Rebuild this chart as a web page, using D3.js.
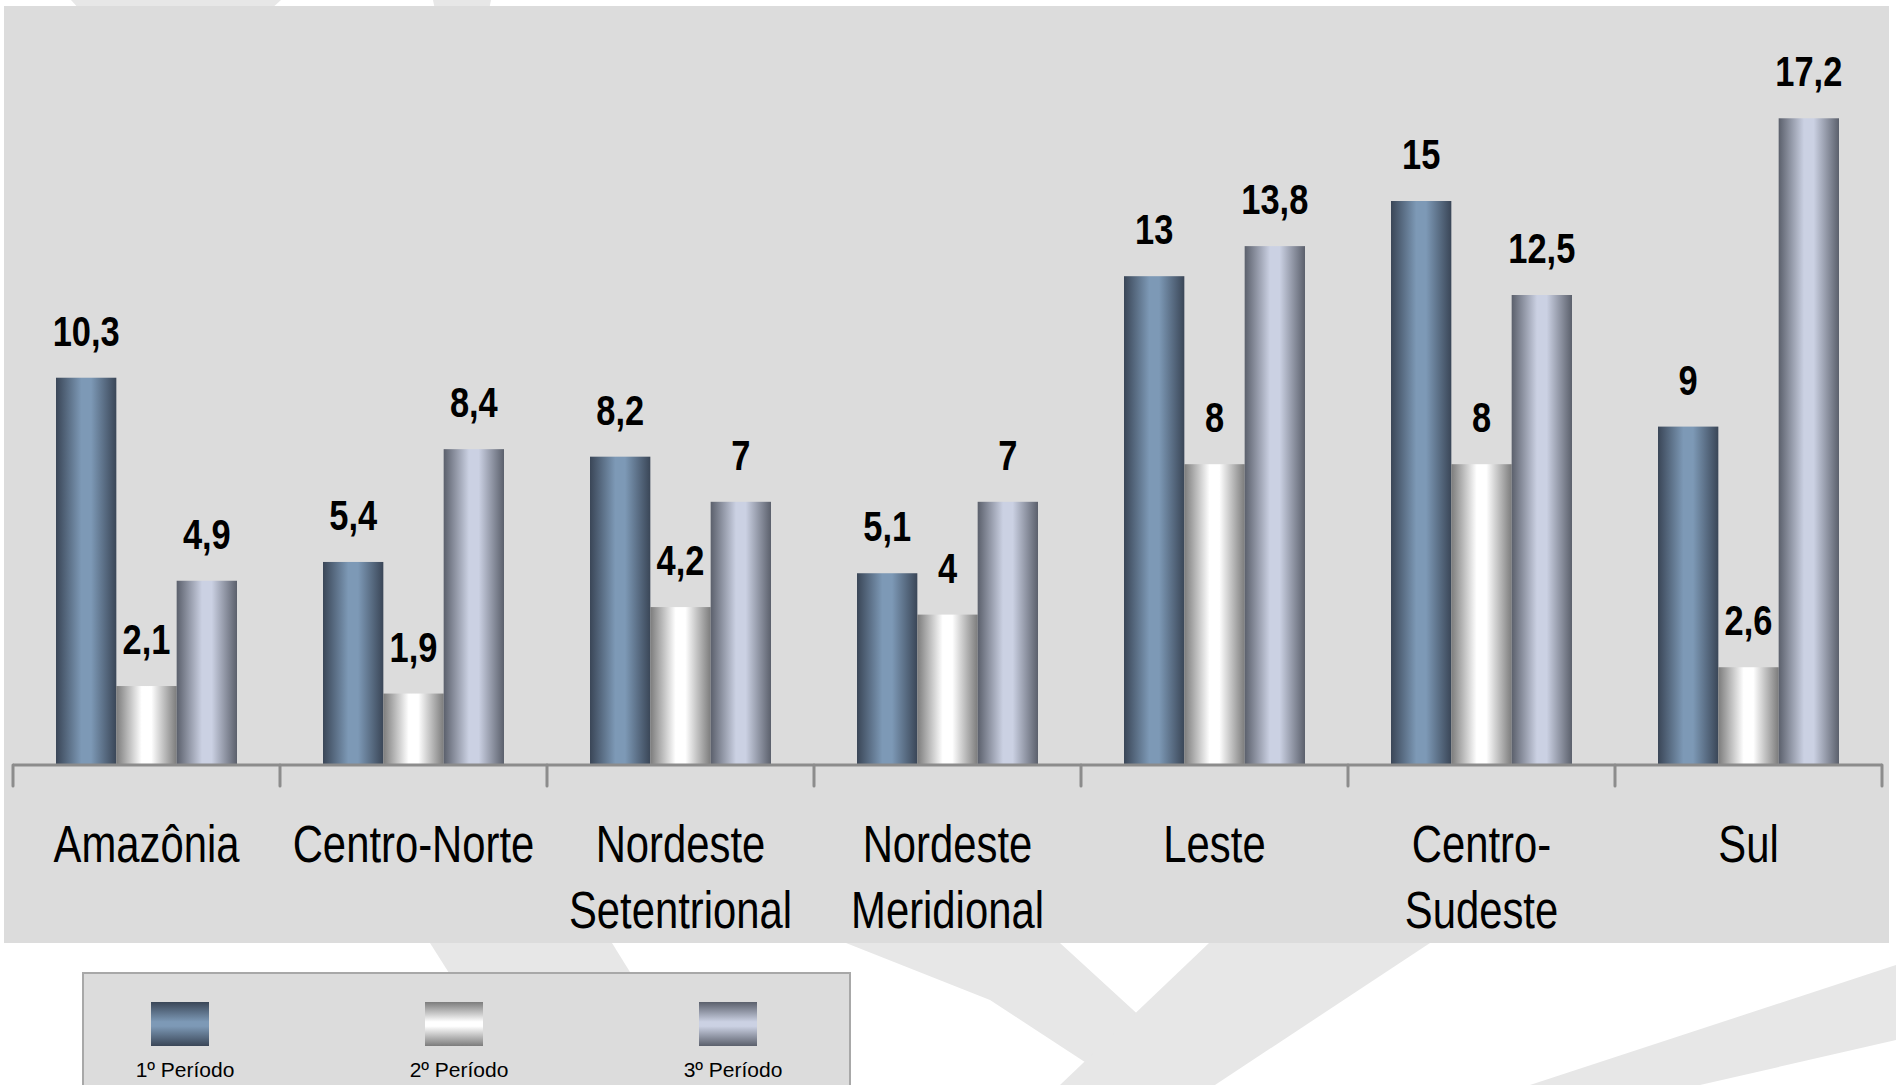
<!DOCTYPE html>
<html>
<head>
<meta charset="utf-8">
<script src="https://cdn.jsdelivr.net/npm/d3@7"></script>
<style>
  html, body { margin: 0; padding: 0; background: #ffffff; }
  svg { display: block; }
  text { font-family: "Liberation Sans", Arial, sans-serif; }
</style>
</head>
<body>
<svg id="chart"></svg>
<script>
const categories = ['Amazônia', 'Centro-Norte', 'Nordeste Setentrional', 'Nordeste Meridional', 'Leste', 'Centro-Sudeste', 'Sul'];
const categoryLines = [['Amazônia'], ['Centro-Norte'], ['Nordeste', 'Setentrional'], ['Nordeste', 'Meridional'], ['Leste'], ['Centro-', 'Sudeste'], ['Sul']];
const seriesNames = ['1º Período', '2º Período', '3º Período'];
const periodo1 = [10.3, 5.4, 8.2, 5.1, 13, 15, 9];
const periodo2 = [2.1, 1.9, 4.2, 4, 8, 8, 2.6];
const periodo3 = [4.9, 8.4, 7, 7, 13.8, 12.5, 17.2];

const config = {
    width: 1896,
    height: 1085,
    baseY: 765,
    axisLeft: 13,
    axisRight: 1882
};

// gradient colours per series: [edge, centre]
const shades = [
    ['#3a4657', '#7d99b6'],
    ['#7c7c7c', '#ffffff'],
    ['#5b606c', '#cbd1e3']
];

const values = [periodo1, periodo2, periodo3];
const rows = categories.map((c, i) => ({
    cat: c,
    vals: seriesNames.map((s, j) => ({ key: s, idx: j, v: values[j][i] }))
}));

let svg = d3.select('#chart')
    .attr('width', config.width)
    .attr('height', config.height);

// gradients
let defs = svg.append('defs');
shades.forEach((s, i) => {
    let gh = defs.append('linearGradient')
        .attr('id', 'gh' + i)
        .attr('x1', '0%').attr('x2', '100%').attr('y1', '0%').attr('y2', '0%');
    gh.append('stop').attr('offset', '0%').attr('stop-color', s[0]);
    gh.append('stop').attr('offset', '42%').attr('stop-color', s[1]);
    gh.append('stop').attr('offset', '58%').attr('stop-color', s[1]);
    gh.append('stop').attr('offset', '100%').attr('stop-color', s[0]);
    let gv = defs.append('linearGradient')
        .attr('id', 'gv' + i)
        .attr('x1', '0%').attr('x2', '0%').attr('y1', '0%').attr('y2', '100%');
    gv.append('stop').attr('offset', '0%').attr('stop-color', s[0]);
    gv.append('stop').attr('offset', '45%').attr('stop-color', s[1]);
    gv.append('stop').attr('offset', '55%').attr('stop-color', s[1]);
    gv.append('stop').attr('offset', '100%').attr('stop-color', s[0]);
});

// faint watermark behind everything
const wm = '#e7e7e7';
const watermark = [
    [[71, 0], [281, 0], [270, 10], [80, 10]],
    [[433, 0], [491, 0], [489, 10], [435, 10]],
    [[430, 943], [612, 943], [700, 1085], [520, 1085]],
    [[846, 943], [1060, 943], [1215, 1085], [1120, 1085], [990, 1000]],
    [[1209, 943], [1430, 943], [1215, 1085], [1060, 1085]],
    [[1896, 965], [1896, 1040], [1700, 1085], [1530, 1085]]
];
svg.append('g')
    .selectAll('path')
    .data(watermark)
    .enter()
    .append('path')
    .attr('d', d => d3.line()(d) + 'Z')
    .style('fill', wm);

// panel
svg.append('rect')
    .attr('x', 4).attr('y', 6)
    .attr('width', 1885).attr('height', 937)
    .style('fill', '#dcdcdc');

// scales
let xScale = d3.scaleBand()
    .domain(categories)
    .range([config.axisLeft, config.axisRight]);

let xSub = d3.scaleBand()
    .domain(seriesNames)
    .range([43, 224]);

let yScale = d3.scaleLinear()
    .domain([0, 20])
    .range([config.baseY, config.baseY - 20 * 37.6]);

// bars
let groups = svg.append('g')
    .selectAll('g')
    .data(rows)
    .enter()
    .append('g')
    .attr('transform', d => `translate(${xScale(d.cat)},0)`);

groups.selectAll('rect')
    .data(d => d.vals)
    .enter()
    .append('rect')
    .attr('x', d => xSub(d.key))
    .attr('width', xSub.bandwidth())
    .attr('y', d => yScale(d.v))
    .attr('height', d => yScale(0) - yScale(d.v))
    .style('fill', d => `url(#gh${d.idx})`);

// value labels
groups.selectAll('text')
    .data(d => d.vals)
    .enter()
    .append('text')
    .attr('transform', d => `translate(${xSub(d.key) + xSub.bandwidth() / 2},${yScale(d.v) - 32}) scale(0.82,1)`)
    .attr('text-anchor', 'middle')
    .style('font-size', '42px')
    .style('font-weight', 'bold')
    .style('fill', '#000')
    .text(d => String(d.v).replace('.', ','));

// axis
let xAxis = d3.axisBottom(xScale)
    .tickSize(0)
    .tickFormat('');
let axisG = svg.append('g')
    .attr('transform', `translate(0,${config.baseY})`)
    .call(xAxis);
axisG.select('.domain')
    .attr('d', `M${config.axisLeft},0H${config.axisRight}`)
    .style('stroke', '#8c8c8c')
    .style('stroke-width', 3);

let tickX = categories.map(c => xScale(c)).concat([config.axisRight]);
axisG.selectAll('line.sep')
    .data(tickX)
    .enter()
    .append('line')
    .attr('class', 'sep')
    .attr('x1', d => d).attr('x2', d => d)
    .attr('y1', 0).attr('y2', 21)
    .style('stroke', '#8c8c8c')
    .style('stroke-width', 3)
    .style('stroke-linecap', 'round');

// category labels
let catG = svg.append('g')
    .selectAll('g')
    .data(categories)
    .enter()
    .append('g')
    .attr('transform', d => `translate(${xScale(d) + xScale.bandwidth() / 2},0)`);

catG.selectAll('text')
    .data((d, i) => categoryLines[i])
    .enter()
    .append('text')
    .attr('transform', (d, i) => `translate(0,${862 + i * 66}) scale(0.82,1)`)
    .attr('text-anchor', 'middle')
    .style('font-size', '51px')
    .style('fill', '#000')
    .text(d => d);

// legend
let legend = svg.append('g');
legend.append('rect')
    .attr('x', 83).attr('y', 973)
    .attr('width', 767).attr('height', 130)
    .style('fill', '#dcdcdc')
    .style('stroke', '#a8a8a8')
    .style('stroke-width', 2);

let legendX = d3.scalePoint()
    .domain(seriesNames)
    .range([180, 728]);

let items = legend.selectAll('g.item')
    .data(seriesNames)
    .enter()
    .append('g')
    .attr('class', 'item')
    .attr('transform', d => `translate(${legendX(d)},0)`);

items.append('rect')
    .attr('x', -29).attr('y', 1002)
    .attr('width', 58).attr('height', 44)
    .style('fill', (d, i) => `url(#gv${i})`);

items.append('text')
    .attr('x', 5).attr('y', 1077)
    .attr('text-anchor', 'middle')
    .style('font-size', '21px')
    .style('fill', '#000')
    .text(d => d);
</script>
</body>
</html>
